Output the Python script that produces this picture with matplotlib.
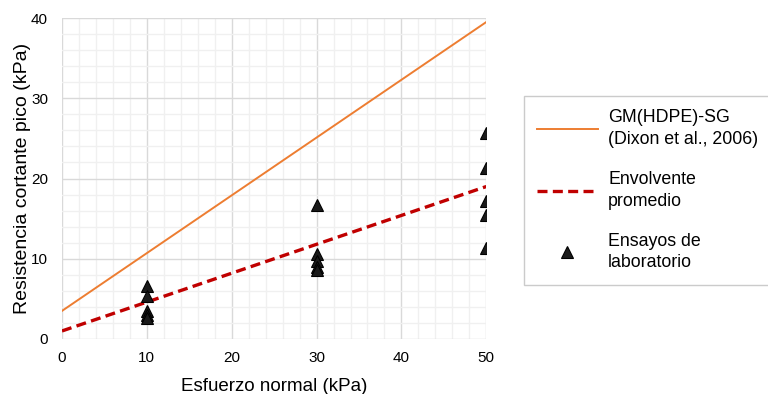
import numpy as np
import matplotlib
matplotlib.use('Agg')
import matplotlib.pyplot as plt
from matplotlib.ticker import MultipleLocator

plt.rcParams['font.family'] = ['Liberation Sans', 'DejaVu Sans']

# datos de los ensayos de laboratorio
x_ens = [10, 10, 10, 10, 10, 30, 30, 30, 30, 30, 50, 50, 50, 50, 50]
y_ens = [6.6, 5.3, 3.5, 3.0, 2.6, 16.7, 10.6, 9.7, 9.0, 8.6, 25.7, 21.3, 17.2, 15.4, 11.4]

# envolventes (extremos)
x_lin = [0, 50]
y_dixon = [3.5, 39.5]
y_prom = [1.0, 19.0]

fig = plt.figure(figsize=(7.68, 3.94), dpi=100)
ax = fig.add_axes([0.0807, 0.1396, 0.5525, 0.8147])

ax.plot(x_lin, y_dixon, '-', color='#ED7D31', lw=1.4, label='GM(HDPE)-SG\n(Dixon et al., 2006)', zorder=3)
ax.plot(x_lin, y_prom, '--', color='#C00000', lw=2.4, dashes=(3, 1.6), label='Envolvente\npromedio', zorder=3)
ax.plot(x_ens, y_ens, '^', color='#1a1a1a', markersize=9, markeredgecolor='#000000', mew=0.8,
        linestyle='none', label='Ensayos de\nlaboratorio', zorder=4)

ax.set_xlim(0, 50)
ax.set_ylim(0, 40)
ax.xaxis.set_major_locator(MultipleLocator(10))
ax.yaxis.set_major_locator(MultipleLocator(10))
ax.xaxis.set_minor_locator(MultipleLocator(2))
ax.yaxis.set_minor_locator(MultipleLocator(2))
ax.grid(which='major', color='#d9d9d9', lw=1.0)
ax.grid(which='minor', color='#f0f0f0', lw=1.0)
ax.set_axisbelow(True)
for s in ax.spines.values():
    s.set_visible(False)
ax.tick_params(which='both', length=0, labelsize=11)
ax.tick_params(axis='x', pad=9)
ax.tick_params(axis='y', pad=10)

ax.set_xlabel('Esfuerzo normal (kPa)', fontsize=13.5, labelpad=9)
ax.set_ylabel('Resistencia cortante pico (kPa)', fontsize=14, labelpad=0)

leg = fig.legend(loc='upper left', bbox_to_anchor=(0.682, 0.756), fontsize=12.8,
                 frameon=True, fancybox=False, edgecolor='#bfbfbf', handlelength=3.4,
                 labelspacing=1.3, borderpad=0.75, handletextpad=0.6, borderaxespad=0)
leg.get_frame().set_linewidth(1.0)
for t in leg.get_texts():
    t.set_linespacing(1.35)

fig.savefig('out.png', dpi=100)
